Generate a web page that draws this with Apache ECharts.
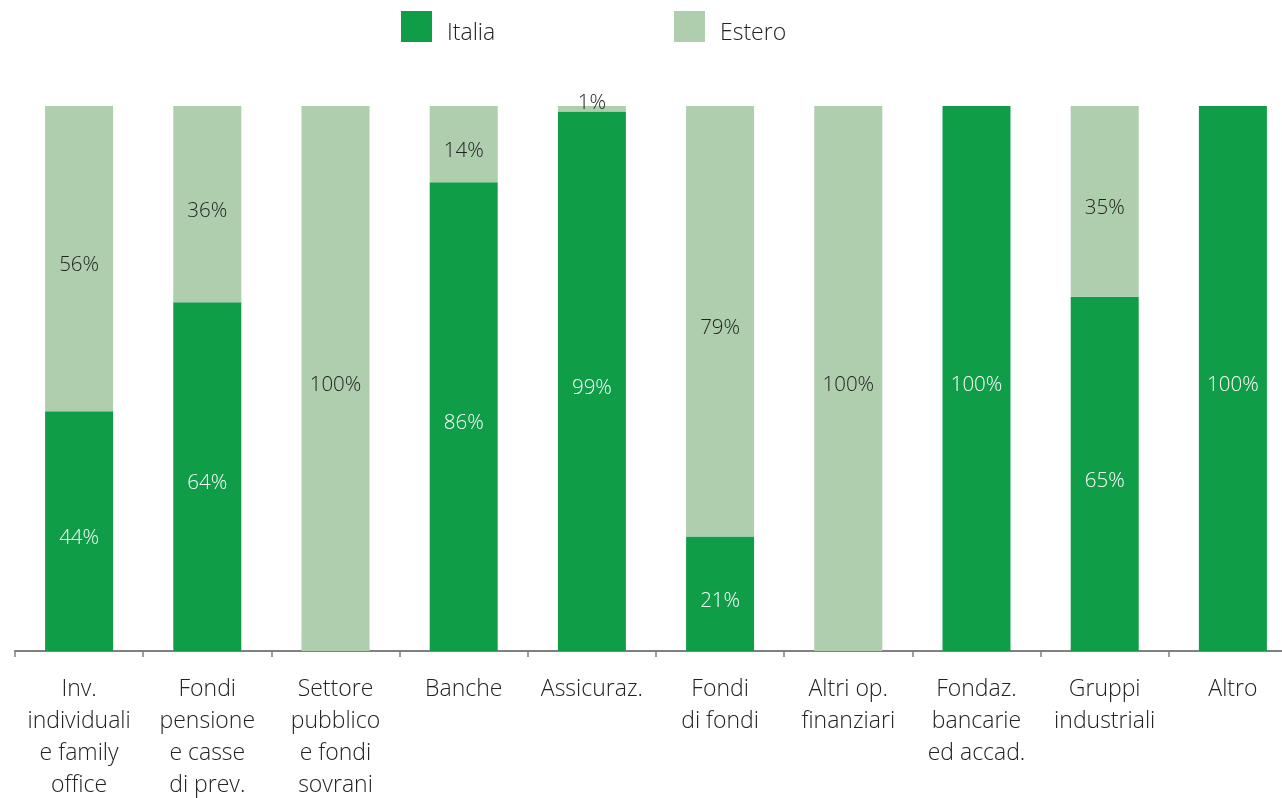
<!DOCTYPE html>
<html>
<head>
<meta charset="utf-8">
<script src="https://cdn.jsdelivr.net/npm/echarts@6/dist/echarts.min.js"></script>
<style>
  html, body { margin: 0; padding: 0; background: #fff; }
  #chart { width: 1282px; height: 798px; }
</style>
</head>
<body>
<div id="chart"></div>
<script>
// Investor categories (x axis)
const categories = [
  'Inv.\nindividuali\ne family\noffice',
  'Fondi\npensione\ne casse\ndi prev.',
  'Settore\npubblico\ne fondi\nsovrani',
  'Banche',
  'Assicuraz.',
  'Fondi\ndi fondi',
  'Altri op.\nfinanziari',
  'Fondaz.\nbancarie\ned accad.',
  'Gruppi\nindustriali',
  'Altro'
];
// Share of domestic investors (%)
const italia = [44, 64, 0, 86, 99, 21, 0, 100, 65, 100];
// Share of foreign investors (%)
const estero = [56, 36, 100, 14, 1, 79, 100, 0, 35, 0];

const FONT = 'Open Sans';
const DARK = '#0f9d48';
const LIGHT = '#aecead';

function labelFor(color) {
  return {
    show: true,
    position: 'inside',
    offset: [0, 7],
    color: color,
    fontFamily: FONT,
    fontWeight: 300,
    fontSize: 20.5,
    formatter: p => p.value > 0 ? p.value + '%' : ''
  };
}

// small segments get their label just above the bar top
const esteroData = estero.map(v => v > 0 && v < 5
  ? { value: v, label: { position: 'top', distance: -8, offset: [0, 0] } }
  : v);

// legend names sit a little below the middle of their swatch
const legendText = {
  fontFamily: FONT, fontWeight: 300, fontSize: 23, color: '#222',
  rich: { n: { fontFamily: FONT, fontWeight: 300, fontSize: 23, color: '#222', padding: [14, 0, 0, 10] } }
};
const legendBase = {
  top: 11, padding: 0, itemWidth: 31, itemHeight: 31, icon: 'rect',
  formatter: '{n|{name}}', textStyle: legendText
};

const chart = echarts.init(document.getElementById('chart'));
chart.setOption({
  animation: false,
  legend: [
    Object.assign({ data: ['Italia'], left: 401 }, legendBase),
    Object.assign({ data: ['Estero'], left: 674 }, legendBase)
  ],
  grid: { left: 15, right: -15, top: 106, bottom: 147, containLabel: false, outerBoundsMode: 'none' },
  xAxis: {
    type: 'category',
    data: categories,
    axisLine: { lineStyle: { color: '#808080', width: 2 } },
    axisTick: { show: true, length: 6, lineStyle: { color: '#808080', width: 1.5 } },
    axisLabel: {
      interval: 0,
      margin: 22,
      fontFamily: FONT,
      fontWeight: 300,
      fontSize: 23,
      lineHeight: 32,
      color: '#222'
    }
  },
  yAxis: {
    type: 'value', min: 0, max: 100, show: false,
    splitLine: { show: false }
  },
  series: [
    {
      name: 'Italia', type: 'bar', stack: 'tot', barWidth: 68,
      itemStyle: { color: DARK },
      label: labelFor('#ffffff'),
      data: italia
    },
    {
      name: 'Estero', type: 'bar', stack: 'tot', barWidth: 68,
      itemStyle: { color: LIGHT },
      label: labelFor('#222222'),
      data: esteroData
    }
  ]
});
</script>
</body>
</html>
